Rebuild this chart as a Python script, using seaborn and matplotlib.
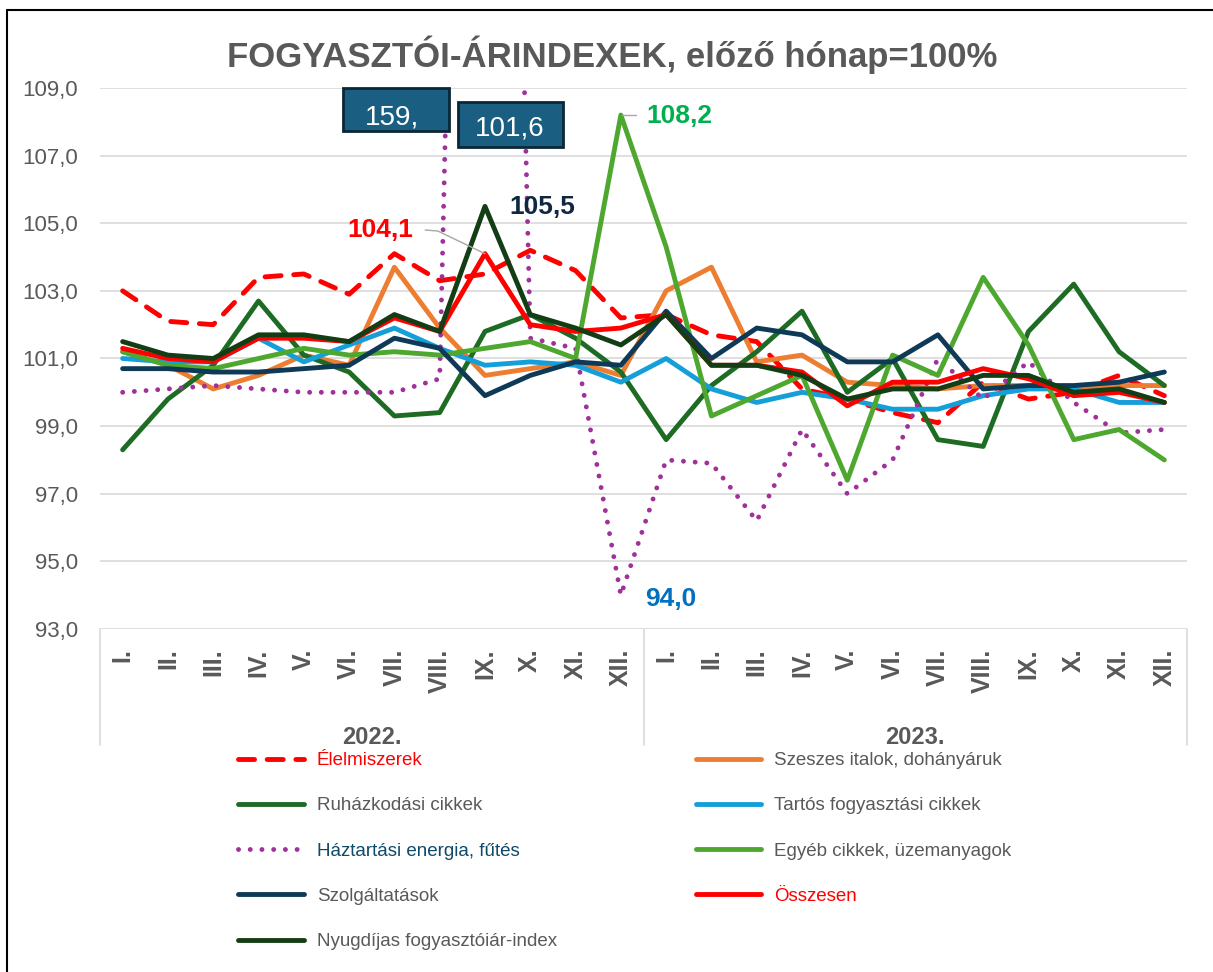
import numpy as np
import pandas as pd
import seaborn as sns
import matplotlib.pyplot as plt
import matplotlib.transforms as mtransforms
from matplotlib.lines import Line2D
from matplotlib.patches import Rectangle

# ---- adatok (leolvasva az abrarol) ----
honapok = ['I.', 'II.', 'III.', 'IV.', 'V.', 'VI.', 'VII.', 'VIII.', 'IX.', 'X.', 'XI.', 'XII.'] * 2
evek = ['2022.', '2023.']

elelmiszerek = [103.0, 102.1, 102.0, 103.4, 103.5, 102.9, 104.1, 103.3, 103.5, 104.2, 103.6, 102.2,
                102.3, 101.7, 101.5, 100.1, 99.8, 99.4, 99.1, 100.3, 99.8, 100.0, 100.5, 99.9]
szeszes = [101.2, 100.8, 100.1, 100.5, 101.1, 100.8, 103.7, 101.9, 100.5, 100.7, 100.9, 100.5,
           103.0, 103.7, 100.9, 101.1, 100.3, 100.2, 100.1, 100.2, 100.2, 100.1, 100.2, 100.2]
ruhazkodasi = [98.3, 99.8, 100.8, 102.7, 101.1, 100.6, 99.3, 99.4, 101.8, 102.3, 101.6, 100.6,
               98.6, 100.2, 101.2, 102.4, 100.0, 101.0, 98.6, 98.4, 101.8, 103.2, 101.2, 100.2]
tartos = [101.0, 100.9, 100.9, 101.6, 100.9, 101.4, 101.9, 101.3, 100.8, 100.9, 100.8, 100.3,
          101.0, 100.1, 99.7, 100.0, 99.8, 99.5, 99.5, 99.9, 100.1, 100.1, 99.7, 99.7]
haztartasi = [100.0, 100.1, 100.2, 100.1, 100.0, 100.0, 100.0, 100.4, 159.1, 101.6, 101.3, 94.0,
              98.0, 97.9, 96.2, 98.9, 97.0, 98.0, 101.0, 99.8, 100.9, 99.7, 98.8, 98.9]
egyeb = [101.2, 100.8, 100.7, 101.0, 101.3, 101.1, 101.2, 101.1, 101.3, 101.5, 101.0, 108.2,
         104.3, 99.3, 99.9, 100.5, 97.4, 101.1, 100.5, 103.4, 101.4, 98.6, 98.9, 98.0]
szolgaltatasok = [100.7, 100.7, 100.6, 100.6, 100.7, 100.8, 101.6, 101.3, 99.9, 100.5, 100.9, 100.8,
                  102.4, 101.0, 101.9, 101.7, 100.9, 100.9, 101.7, 100.1, 100.2, 100.2, 100.3, 100.6]
osszesen = [101.3, 101.0, 100.9, 101.6, 101.6, 101.5, 102.2, 101.8, 104.1, 102.0, 101.8, 101.9,
            102.3, 100.8, 100.8, 100.6, 99.6, 100.3, 100.3, 100.7, 100.4, 99.9, 100.0, 99.7]
nyugdijas = [101.5, 101.1, 101.0, 101.7, 101.7, 101.5, 102.3, 101.8, 105.5, 102.3, 101.9, 101.4,
             102.3, 100.8, 100.8, 100.5, 99.8, 100.1, 100.1, 100.5, 100.5, 100.0, 100.1, 99.7]

nevek = ['Élelmiszerek', 'Szeszes italok, dohányáruk', 'Ruházkodási cikkek',
         'Tartós fogyasztási cikkek', 'Háztartási energia, fűtés', 'Egyéb cikkek, üzemanyagok',
         'Szolgáltatások', 'Összesen', 'Nyugdíjas fogyasztóiár-index']
ertekek = [elelmiszerek, szeszes, ruhazkodasi, tartos, haztartasi, egyeb,
           szolgaltatasok, osszesen, nyugdijas]
szinek = ['#FF0000', '#ED7D31', '#1E6B24', '#159FD9', '#A0309A', '#4EA72E',
          '#0E3A58', '#FF0000', '#133D14']
vonalak = [(0, (3.3, 2.6)), '-', '-', '-', (0, (0.01, 2.4)), '-', '-', '-', '-']
felirat_szinek = ['#FF0000', '#595959', '#595959', '#595959', '#0E4A6A', '#595959',
                  '#595959', '#FF0000', '#595959']

# long format tabla
rows = []
for nev, vals in zip(nevek, ertekek):
    for i, v in enumerate(vals):
        rows.append({'sorozat': nev, 'pos': i, 'ertek': v})
df = pd.DataFrame(rows)


def hu(v):
    return f"{v:.1f}".replace('.', ',')


sns.set_theme(style='white')
plt.rcParams['font.family'] = ['Liberation Sans', 'DejaVu Sans']
szurke = '#595959'

fig = plt.figure(figsize=(12.13, 9.72), dpi=100)
ax = fig.add_axes([100 / 1213, 1 - 629 / 972, 1087 / 1213, 541 / 972])

for nev, szin, ls in zip(nevek, szinek, vonalak):
    sns.lineplot(data=df[df['sorozat'] == nev], x='pos', y='ertek', ax=ax, color=szin,
                 linewidth=3.5, linestyle=ls, label=nev, solid_capstyle='round',
                 dash_capstyle='round', solid_joinstyle='round', dash_joinstyle='round')

ax.set_xlim(-0.5, 23.5)
ax.set_ylim(93, 109)
ax.set_yticks(np.arange(93, 110, 2))
ax.set_yticklabels([hu(v) for v in np.arange(93, 110, 2)], fontsize=16, color=szurke)
ax.set_xticks(range(24))
ax.set_xticklabels(honapok, rotation=90, fontsize=18, fontweight='bold', color=szurke, va='top')
ax.tick_params(axis='y', length=0, pad=16)
ax.tick_params(axis='x', length=0, pad=14)
ax.set_xlabel('')
ax.set_ylabel('')
ax.grid(axis='y', color='#D9D9D9', linewidth=1.2)
ax.set_axisbelow(True)
for s in ax.spines.values():
    s.set_visible(False)

# evek a kategoriatengely alatt, elvalaszto vonalakkal
blend = mtransforms.blended_transform_factory(ax.transData, ax.transAxes)
for k, ev in enumerate(evek):
    ax.text(k * 12 + 5.5, -0.2, ev, transform=blend, ha='center', va='center',
            fontsize=17, fontweight='bold', color=szurke)
for xv in [-0.5, 11.5, 23.5]:
    ax.axvline(xv, ymin=-0.215, ymax=0, clip_on=False, color='#D9D9D9', linewidth=1.2)

# adatfeliratok
ax.text(5.68, 104.8, hu(osszesen[8]), ha='center', va='center', fontsize=19,
        fontweight='bold', color='#FF0000')
ax.plot([6.68, 6.96, 8.0], [104.8, 104.77, osszesen[8]], color='#A6A6A6', linewidth=1)
ax.text(9.26, 105.48, hu(nyugdijas[8]), ha='center', va='center', fontsize=19,
        fontweight='bold', color='#0E2841')
ax.text(12.3, 108.17, hu(egyeb[11]), ha='center', va='center', fontsize=19,
        fontweight='bold', color='#00B050')
ax.plot([11.03, 11.33], [egyeb[11], egyeb[11]], color='#A6A6A6', linewidth=1)
ax.text(12.1, 93.9, hu(haztartasi[11]), ha='center', va='center', fontsize=19,
        fontweight='bold', color='#0070C0')

# a skalarol kilogo energia-ertekek dobozai
dobozok = [((4.865, 107.73), 2.34, 1.27, hu(haztartasi[8])[:4], (5.95, 108.14)),
           ((7.40, 107.25), 2.32, 1.34, hu(haztartasi[9]), (8.55, 107.79))]
for (xy, w, h, txt, tpos) in dobozok:
    ax.add_patch(Rectangle(xy, w, h, facecolor='#1A5F82', edgecolor='#0B2637',
                           linewidth=2, zorder=10, clip_on=False))
    ax.text(tpos[0], tpos[1], txt, ha='center', va='center', fontsize=20,
            color='white', zorder=11)

# jelmagyarazat: Excel soronkent tolti, matplotlib oszloponkent
handles, labels = ax.get_legend_handles_labels()
ax.get_legend().remove()
order = [0, 2, 4, 6, 8, 1, 3, 5, 7]
leg = fig.legend([handles[i] for i in order], [labels[i] for i in order],
                 loc='upper left', bbox_to_anchor=(238 / 1213, 1 - 752 / 972), ncol=2,
                 frameon=False, fontsize=13.5,
                 handlelength=3.5, handletextpad=0.7, labelspacing=1.5,
                 columnspacing=7.4, borderpad=0, borderaxespad=0)
for t, i in zip(leg.get_texts(), order):
    t.set_color(felirat_szinek[i])

fig.text(612 / 1213, 1 - 55 / 972, 'FOGYASZTÓI-ÁRINDEXEK, előző hónap=100%', ha='center',
         va='center', fontsize=25, fontweight='bold', color=szurke)

# kulso keret (bal es felso el)
fig.add_artist(Line2D([7 / 1213, 7 / 1213], [0, 1 - 10 / 972], color='black', linewidth=1.5))
fig.add_artist(Line2D([7 / 1213, 1], [1 - 10 / 972, 1 - 10 / 972], color='black', linewidth=1.5))

fig.savefig('out.png', dpi=100)
